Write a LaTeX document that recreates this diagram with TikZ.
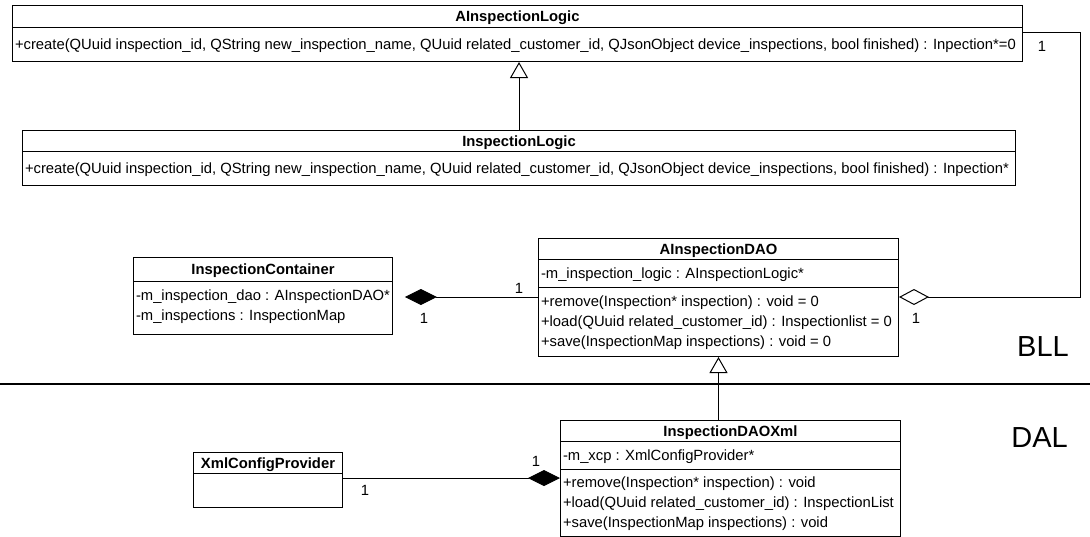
\documentclass[tikz,border=0pt]{standalone}
\usepackage{fontspec}
\setmainfont{Liberation Sans}
\usetikzlibrary{shapes.multipart,arrows.meta}

\newcommand\umlfont{\fontsize{14.8pt}{20pt}\selectfont}
\newcommand\layerfont{\fontsize{29pt}{29pt}\selectfont}
% one-line compartment of a given height, text centred vertically
\newcommand\cellrow[2]{\rule[\dimexpr 5.3pt-#1pt/2\relax]{0pt}{#1pt}#2}
% space above the first baseline / below the last baseline of a compartment
\newcommand\firstln[1]{\rule{0pt}{#1pt}}
\newcommand\lastln[1]{\rule[-#1pt]{0pt}{#1pt}}

\begin{document}
\begin{tikzpicture}[x=1pt,y=-1pt,
  every node/.style={font=\umlfont},
  umlclass/.style={draw, line width=1pt, rectangle split, rectangle split parts=#1,
    rectangle split part align={center,left,left}, align=left,
    inner xsep=2.5pt, inner ysep=0pt, anchor=north west},
  link/.style={line width=1pt},
  gen/.style={link, -{Triangle[open,length=16pt,width=18pt]}},
  compo/.style={link, {Diamond[length=32pt,width=16pt]}-},
  aggr/.style={link, -{Diamond[open,length=30pt,width=16pt]}},
  lbl/.style={inner sep=0pt},
  layer/.style={font=\layerfont, inner sep=0pt}]

\useasboundingbox (0,0) rectangle (1090,536);

% ---- business logic layer ----
\node[umlclass=2] (ail) at (12,5) {\cellrow{21}{\textbf{AInspectionLogic}}
  \nodepart{second}\cellrow{33}{+create(QUuid inspection\_id, QString new\_inspection\_name, QUuid related\_customer\_id, QJsonObject device\_inspections, bool finished) : Inpection*=0}\kern4pt};

\node[umlclass=2] (il) at (22,130) {\cellrow{20}{\textbf{InspectionLogic}}
  \nodepart{second}\cellrow{33}{+create(QUuid inspection\_id, QString new\_inspection\_name, QUuid related\_customer\_id, QJsonObject device\_inspections, bool finished) : Inpection*}\kern4pt};

\node[umlclass=3] (dao) at (538,238) {\cellrow{20}{\textbf{AInspectionDAO}}
  \nodepart{second}\cellrow{27}{-m\_inspection\_logic : AInspectionLogic*}
  \nodepart{third}\firstln{18.2}+remove(Inspection* inspection) : void = 0\\
  +load(QUuid related\_customer\_id) : Inspectionlist = 0\kern4pt\\
  +save(InspectionMap inspections) : void = 0\lastln{9.8}};

\node[umlclass=2] (ic) at (133,257) {\cellrow{23}{\textbf{InspectionContainer}}
  \nodepart{second}\firstln{18.2}-m\_inspection\_dao : AInspectionDAO*\\
  -m\_inspections : InspectionMap\lastln{13.8}};

% ---- data access layer ----
\node[umlclass=3] (daox) at (560,420) {\cellrow{20}{\textbf{InspectionDAOXml}}
  \nodepart{second}\cellrow{27}{-m\_xcp : XmlConfigProvider*}
  \nodepart{third}\firstln{17}+remove(Inspection* inspection) : void\\
  +load(QUuid related\_customer\_id) : InspectionList\kern4pt\\
  +save(InspectionMap inspections) : void\lastln{9}};

\node[umlclass=2, minimum width=149pt] (xcp) at (193,452) {\cellrow{20}{\textbf{XmlConfigProvider}}
  \nodepart{second}\rule{0pt}{33pt}};

% ---- relations ----
\draw[gen] (il.north) -- (il.north |- ail.south);
\draw[gen] (dao.south |- daox.north) -- (dao.south);

\coordinate (aggturn) at (1080,32);
\coordinate (aggrow) at (900,297);
\draw[aggr] (ail.east |- aggturn) -- (aggturn) |- (dao.east |- aggrow);

\coordinate (comprow) at (460,297);
\draw[compo, shorten <=12pt] (ic.east |- comprow) -- (dao.west |- comprow);

\coordinate (xrow) at (450,478);
\draw[compo] (daox.west |- xrow) -- (xcp.east |- xrow);

% multiplicities
\node[lbl] (m1) at (1042,46) {1};
\node[lbl] (m2) at (916,318) {1};
\node[lbl] (m3) at (519,288) {1};
\node[lbl] (m4) at (424,318) {1};
\node[lbl] (m5) at (536,461) {1};
\node[lbl] (m6) at (365,490) {1};

% layer boundary
\coordinate (sepL) at (0,384);
\coordinate (sepR) at (1090,384);
\draw[line width=1.2pt] (sepL) -- (sepR);
\node[layer, anchor=east] (bll) at (1069,347) {BLL};
\node[layer, anchor=east] (dal) at (1068,438) {DAL};
\end{tikzpicture}
\end{document}
